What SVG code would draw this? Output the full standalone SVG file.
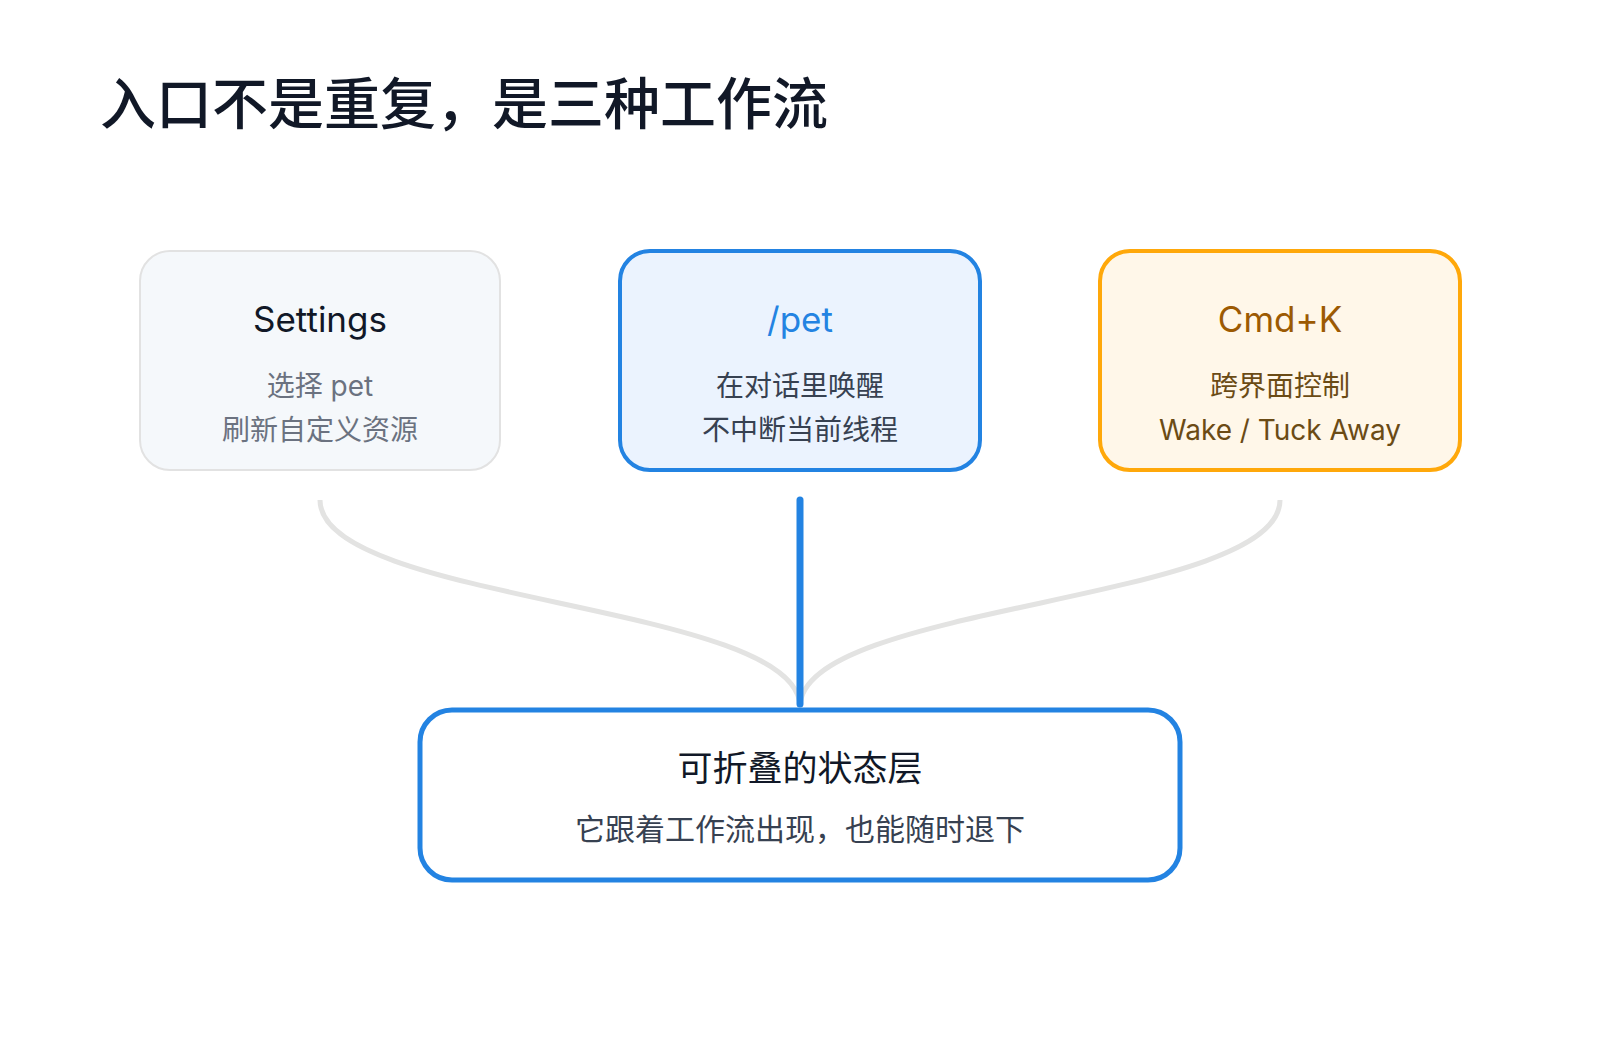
<svg xmlns="http://www.w3.org/2000/svg" width="1600" height="1040" viewBox="0 0 1600 1040">
  <style>
    text { font-family: "Inter", "Noto Sans CJK SC", sans-serif; }
    .h1 { font-size: 56px; font-weight: 500; fill: #111827; }
    .ttl { font-size: 35px; font-weight: 400; text-anchor: middle; }
    .sub { font-size: 28px; font-weight: 400; text-anchor: middle; }
    .curve { fill: none; stroke: #e3e3e2; stroke-width: 5; }
    .main { fill: none; stroke: #2383e2; stroke-width: 7; stroke-linecap: round; }
  </style>
  <rect width="1600" height="1040" fill="#ffffff"/>
  <text class="h1" x="100" y="124">入口不是重复，是三种工作流</text>

  <g id="connectors">
    <path class="curve" d="M320 500 C320 603 800 603 800 707"/>
    <path class="curve" d="M1280 500 C1280 603 800 603 800 707"/>
    <path class="main" d="M800 500 L800 704"/>
  </g>

  <g id="node-settings">
    <rect x="140" y="251" width="360" height="219" rx="30" fill="#f5f8fb" stroke="#e2e2e2" stroke-width="2"/>
    <text class="ttl" x="320" y="332" fill="#111827">Settings</text>
    <text class="sub" x="320" y="396" fill="#6b7280">选择 pet</text>
    <text class="sub" x="320" y="440" fill="#6b7280">刷新自定义资源</text>
  </g>

  <g id="node-pet">
    <rect x="620" y="251" width="360" height="219" rx="30" fill="#ebf3fe" stroke="#2383e2" stroke-width="4"/>
    <text class="ttl" x="800" y="332" fill="#2383e2">/pet</text>
    <text class="sub" x="800" y="396" fill="#374151">在对话里唤醒</text>
    <text class="sub" x="800" y="440" fill="#374151">不中断当前线程</text>
  </g>

  <g id="node-cmdk">
    <rect x="1100" y="251" width="360" height="219" rx="30" fill="#fff7e9" stroke="#ffa80a" stroke-width="4"/>
    <text class="ttl" x="1280" y="332" fill="#9c5a03">Cmd+K</text>
    <text class="sub" x="1280" y="396" fill="#6b4b15">跨界面控制</text>
    <text class="sub" x="1280" y="440" fill="#6b4b15">Wake / Tuck Away</text>
  </g>

  <g id="node-layer">
    <rect x="420" y="710" width="760" height="170" rx="32" fill="#ffffff" stroke="#2383e2" stroke-width="5"/>
    <text class="ttl" x="800" y="781" fill="#111827" font-weight="500">可折叠的状态层</text>
    <text class="sub" x="800" y="840" fill="#374151" style="font-size:30px">它跟着工作流出现，也能随时退下</text>
  </g>
</svg>
